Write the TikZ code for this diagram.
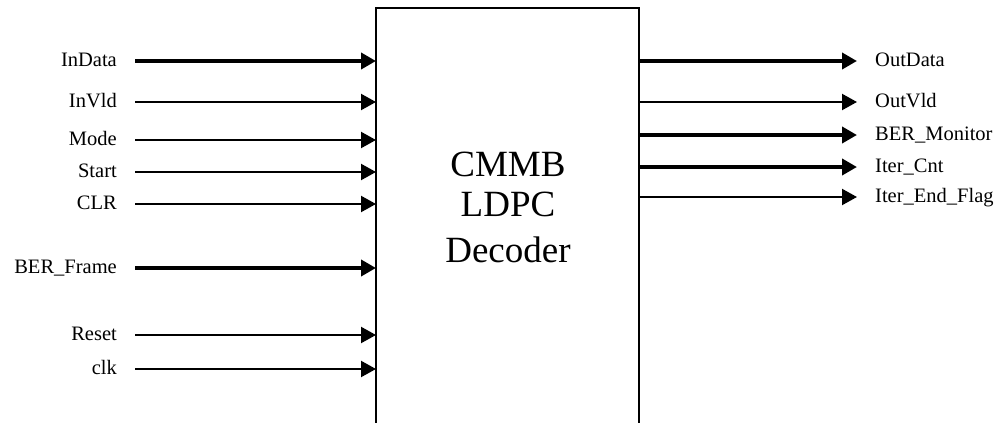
\documentclass[tikz,border=0pt]{standalone}
\usepackage{fontspec}
\setmainfont{Liberation Serif}
\usetikzlibrary{arrows.meta,positioning}
\begin{document}
\begin{tikzpicture}[x=1pt,y=-1pt,
  lbl/.style={inner sep=0pt,font=\fontsize{20.5}{25}\selectfont,text height=11.5pt,text depth=0pt},
  thinsig/.style={line width=2.2pt,-{Triangle[length=15pt,width=16pt]}},
  thicksig/.style={line width=4.8pt,-{Triangle[length=15pt,width=16pt]}},
  boxline/.style={line width=2pt},
  big/.style={inner sep=0pt,font=\fontsize{37}{43}\selectfont,anchor=base}]
\useasboundingbox (0,0) rectangle (1002,423);
% block (open at the bottom)
\coordinate (bl) at (376,423);
\coordinate (tl) at (376,8);
\coordinate (tr) at (639,8);
\coordinate (br) at (639,423);
\draw[boxline] (bl) -- (tl) -- (tr) -- (br);
\node[big] (t1) at (508,176) {CMMB};
\node[big] (t2) at (508,216) {LDPC};
\node[big] (t3) at (508,262) {Decoder};
% inputs
\foreach \nm/\txt/\y/\st in {a/InData/61/thicksig, b/InVld/102/thinsig, c/Mode/140/thinsig, d/Start/172/thinsig, e/CLR/204/thinsig, f/BER\_Frame/268/thicksig, g/Reset/335/thinsig, h/clk/369/thinsig}{
  \coordinate (s\nm) at (135,\y);
  \node[lbl,anchor=east,left=18pt of s\nm] (l\nm) {\txt};
  \draw[\st] (s\nm) -- (s\nm -| tl);
}
% outputs
\foreach \nm/\txt/\y/\st in {p/OutData/61/thicksig, q/OutVld/102/thinsig, r/BER\_Monitor/135/thicksig, s/Iter\_Cnt/167/thicksig, t/Iter\_End\_Flag/197/thinsig}{
  \coordinate (e\nm) at (857,\y);
  \node[lbl,anchor=west,right=18pt of e\nm] (o\nm) {\txt};
  \draw[\st] (e\nm -| tr) -- (e\nm);
}
\end{tikzpicture}
\end{document}
